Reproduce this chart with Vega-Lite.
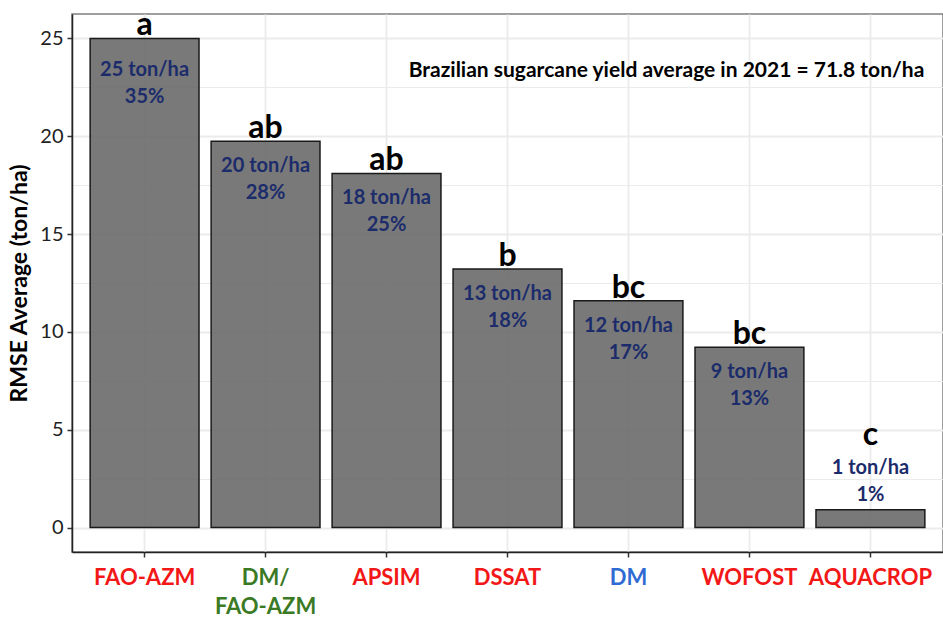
{
  "$schema": "https://vega.github.io/schema/vega-lite/v6.json",
  "width": 871,
  "height": 538,
  "autosize": {"type": "none"},
  "padding": {"left": 72, "top": 14, "right": 0, "bottom": 67},
  "background": "white",
  "config": {
    "font": "Lato",
    "view": {"stroke": "#7f7f7f", "strokeWidth": 1.5},
    "axis": {"gridColor": "#ebebeb", "domainColor": "#222222", "domainWidth": 1.5, "tickColor": "#333333", "tickWidth": 1.5, "tickSize": 5}
  },
  "data": {
    "values": [
      {"model": "FAO-AZM", "rmse": 25, "lab": "25 ton/ha", "pct": "35%", "grp": "a"},
      {"model": "DM/FAO-AZM", "rmse": 19.75, "lab": "20 ton/ha", "pct": "28%", "grp": "ab"},
      {"model": "APSIM", "rmse": 18.1, "lab": "18 ton/ha", "pct": "25%", "grp": "ab"},
      {"model": "DSSAT", "rmse": 13.22, "lab": "13 ton/ha", "pct": "18%", "grp": "b"},
      {"model": "DM", "rmse": 11.59, "lab": "12 ton/ha", "pct": "17%", "grp": "bc"},
      {"model": "WOFOST", "rmse": 9.22, "lab": "9 ton/ha", "pct": "13%", "grp": "bc"},
      {"model": "AQUACROP", "rmse": 0.91, "lab": "1 ton/ha", "pct": "1%", "grp": "c"}
    ]
  },
  "encoding": {
    "x": {
      "field": "model", "type": "nominal", "sort": null,
      "scale": {"paddingInner": 0.1, "paddingOuter": 0.15},
      "axis": {
        "title": null, "labelAngle": 0, "bandPosition": 0.5, "grid": true, "gridWidth": 1.8,
        "labelFontSize": 22, "labelFontWeight": "bold", "labelPadding": 10, "labelLineHeight": 29,
        "labelExpr": "datum.value === 'DM/FAO-AZM' ? ['DM/', 'FAO-AZM'] : datum.label",
        "labelColor": {
          "condition": [
            {"test": "datum.value === 'DM/FAO-AZM'", "value": "#3b7a24"},
            {"test": "datum.value === 'DM'", "value": "#2f6bd3"}
          ],
          "value": "#f21818"
        }
      }
    },
    "y": {
      "field": "rmse", "type": "quantitative",
      "scale": {"domain": [-1.25, 26.25], "nice": false, "zero": false},
      "axis": {
        "title": "RMSE Average (ton/ha)", "titleFontSize": 23, "titleFontWeight": "bold", "titleColor": "#000000", "titlePadding": 8,
        "values": [0, 2.5, 5, 7.5, 10, 12.5, 15, 17.5, 20, 22.5, 25],
        "labelExpr": "datum.value % 5 === 0 ? datum.label : ''",
        "labelFontSize": 20, "labelColor": "#222222", "labelPadding": 4,
        "grid": true,
        "gridWidth": {"condition": {"test": "datum.value % 5 === 0", "value": 1.8}, "value": 1},
        "tickOpacity": {"condition": {"test": "datum.value % 5 === 0", "value": 1}, "value": 0}
      }
    }
  },
  "layer": [
    {
      "mark": {"type": "bar", "fill": "#6a6a6a", "fillOpacity": 0.9, "stroke": "#1a1a1a", "strokeWidth": 1.5},
      "encoding": {"y2": {"datum": 0}}
    },
    {
      "transform": [{"filter": "datum.rmse > 5"}],
      "mark": {"type": "text", "fontSize": 32, "fontWeight": "bold", "baseline": "alphabetic", "dy": -3, "color": "#000000"},
      "encoding": {"text": {"field": "grp"}}
    },
    {
      "transform": [{"filter": "datum.rmse > 5 && datum.rmse < 24"}],
      "mark": {"type": "text", "fontSize": 20, "fontWeight": "bold", "baseline": "middle", "dy": 25, "color": "#1c2c6b"},
      "encoding": {"text": {"field": "lab"}}
    },
    {
      "transform": [{"filter": "datum.rmse > 5 && datum.rmse < 24"}],
      "mark": {"type": "text", "fontSize": 20, "fontWeight": "bold", "baseline": "middle", "dy": 52, "color": "#1c2c6b"},
      "encoding": {"text": {"field": "pct"}}
    },
    {
      "transform": [{"filter": "datum.rmse >= 24"}],
      "mark": {"type": "text", "fontSize": 20, "fontWeight": "bold", "baseline": "middle", "dy": 32, "color": "#1c2c6b"},
      "encoding": {"text": {"field": "lab"}}
    },
    {
      "transform": [{"filter": "datum.rmse >= 24"}],
      "mark": {"type": "text", "fontSize": 20, "fontWeight": "bold", "baseline": "middle", "dy": 59, "color": "#1c2c6b"},
      "encoding": {"text": {"field": "pct"}}
    },
    {
      "transform": [{"filter": "datum.rmse <= 5"}],
      "mark": {"type": "text", "fontSize": 32, "fontWeight": "bold", "baseline": "alphabetic", "dy": -65, "color": "#000000"},
      "encoding": {"text": {"field": "grp"}}
    },
    {
      "transform": [{"filter": "datum.rmse <= 5"}],
      "mark": {"type": "text", "fontSize": 20, "fontWeight": "bold", "baseline": "middle", "dy": -42, "color": "#1c2c6b"},
      "encoding": {"text": {"field": "lab"}}
    },
    {
      "transform": [{"filter": "datum.rmse <= 5"}],
      "mark": {"type": "text", "fontSize": 20, "fontWeight": "bold", "baseline": "middle", "dy": -15, "color": "#1c2c6b"},
      "encoding": {"text": {"field": "pct"}}
    },
    {
      "transform": [{"filter": "datum.model === 'DM'"}],
      "mark": {"type": "text", "fontSize": 21, "fontWeight": "bold", "baseline": "middle", "dx": 38, "color": "#000000"},
      "encoding": {
        "y": {"datum": 23.35, "type": "quantitative"},
        "text": {"value": "Brazilian sugarcane yield average in 2021 = 71.8 ton/ha"}
      }
    }
  ]
}
